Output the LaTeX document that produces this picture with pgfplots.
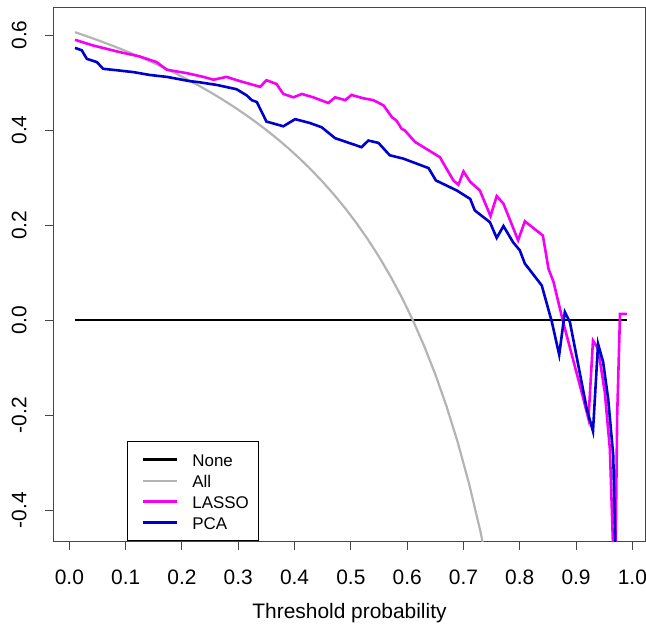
\documentclass[border=0pt]{standalone}
\usepackage{pgfplots}
\pgfplotsset{compat=1.18}
\usepackage{fontspec}
\setmainfont{Liberation Sans}
\definecolor{rgray}{RGB}{180,180,180}
\definecolor{rmag}{RGB}{245,0,245}
\definecolor{rblue}{RGB}{0,0,205}
\definecolor{boxc}{RGB}{70,70,70}
\begin{document}
\begin{tikzpicture}
\begin{axis}[
  scale only axis, width=591bp, height=533bp,
  xmin=-0.0273, xmax=1.0224, ymin=-0.465, ymax=0.657,
  axis line style={draw=boxc, line width=1bp},
  tick align=outside, major tick length=9bp,
  tick style={draw=boxc, line width=1bp},
  xtick pos=bottom, ytick pos=left,
  xtick={0,0.1,0.2,0.3,0.4,0.5,0.6,0.7,0.8,0.9,1.0},
  xticklabels={0.0,0.1,0.2,0.3,0.4,0.5,0.6,0.7,0.8,0.9,1.0},
  ytick={-0.4,-0.2,0,0.2,0.4,0.6},
  yticklabels={-0.4,-0.2,0.0,0.2,0.4,0.6},
  xticklabel style={font=\fontsize{21}{25}\selectfont, anchor=north},
  yticklabel style={font=\fontsize{21}{25}\selectfont, rotate=90, anchor=south},
  xticklabel shift=16bp,
  yticklabel shift=15bp,
  xlabel={Threshold probability},
  xlabel style={font=\fontsize{21}{25}\selectfont, yshift=-12bp},
  legend cell align=left,
  legend style={at={(0.1235,0)}, anchor=south west, draw=black, line width=0.8bp,
    font=\fontsize{17}{20}\selectfont, inner xsep=10bp, inner ysep=9.5bp,
    nodes={inner sep=0pt, text height=15bp, text depth=2bp},
    row sep=4bp},
  legend image code/.code={\path[draw=none,fill=none] (0bp,0bp) -- (55bp,0bp); \draw[#1] (6bp,0bp) -- (40bp,0bp);},
]
\addplot[black, line width=2.4bp] coordinates {(0.01,0) (0.99,0)};
\addlegendentry{None}
\addplot[rgray, line width=2.2bp] coordinates {
(0.01,0.6061) (0.03,0.5979) (0.05,0.5895) (0.07,0.5806) (0.09,0.5714) (0.11,0.5618)
(0.13,0.5517) (0.15,0.5412) (0.17,0.5301) (0.19,0.5185) (0.21,0.5063) (0.23,0.4935)
(0.25,0.48) (0.27,0.4658) (0.29,0.4507) (0.31,0.4348) (0.33,0.4179) (0.35,0.40)
(0.37,0.3810) (0.39,0.3607) (0.41,0.3390) (0.43,0.3158) (0.45,0.2909) (0.47,0.2642)
(0.49,0.2353) (0.51,0.2041) (0.53,0.1702) (0.55,0.1333) (0.57,0.0930) (0.59,0.0488)
(0.61,0.0) (0.63,-0.0541) (0.65,-0.1143) (0.67,-0.1818) (0.69,-0.2581) (0.71,-0.3448)
(0.73,-0.4444) (0.75,-0.56)};
\addlegendentry{All}
\addplot[rmag, line width=2.6bp] coordinates {
(0.010,0.590) (0.0425,0.578) (0.090,0.564) (0.125,0.555) (0.155,0.543) (0.173,0.527)
(0.208,0.520) (0.238,0.512) (0.256,0.506) (0.279,0.512) (0.303,0.503) (0.339,0.491)
(0.350,0.505) (0.368,0.497) (0.380,0.476) (0.398,0.469) (0.413,0.476) (0.433,0.469)
(0.460,0.457) (0.472,0.469) (0.490,0.463) (0.501,0.474) (0.522,0.467) (0.540,0.463)
(0.558,0.452) (0.573,0.427) (0.581,0.420) (0.590,0.403) (0.596,0.399) (0.614,0.375)
(0.658,0.343) (0.682,0.294) (0.691,0.285) (0.700,0.313) (0.712,0.291) (0.729,0.273)
(0.748,0.219) (0.759,0.261) (0.771,0.245) (0.797,0.168) (0.809,0.208) (0.841,0.178)
(0.851,0.108) (0.860,0.080) (0.877,-0.004) (0.910,-0.152) (0.922,-0.208) (0.930,-0.043)
(0.939,-0.060) (0.951,-0.152) (0.960,-0.271) (0.969,-0.60) (0.973,-0.20) (0.978,0.013)
(0.990,0.013)};
\addlegendentry{LASSO}
\addplot[rblue, line width=2.6bp] coordinates {
(0.010,0.573) (0.022,0.568) (0.031,0.550) (0.049,0.543) (0.060,0.529) (0.084,0.526)
(0.114,0.522) (0.143,0.516) (0.173,0.512) (0.214,0.503) (0.229,0.501) (0.262,0.495)
(0.297,0.486) (0.315,0.473) (0.324,0.463) (0.333,0.459) (0.350,0.418) (0.380,0.408)
(0.401,0.423) (0.427,0.415) (0.448,0.406) (0.472,0.383) (0.519,0.364) (0.531,0.378)
(0.549,0.373) (0.569,0.347) (0.593,0.340) (0.638,0.320) (0.651,0.294) (0.688,0.273)
(0.712,0.255) (0.720,0.231) (0.747,0.206) (0.759,0.173) (0.771,0.198) (0.788,0.164)
(0.800,0.147) (0.809,0.119) (0.839,0.073) (0.857,-0.004) (0.870,-0.073) (0.880,0.017)
(0.889,-0.004) (0.919,-0.187) (0.930,-0.234) (0.939,-0.050) (0.948,-0.088) (0.957,-0.166)
(0.966,-0.285) (0.972,-0.60)};
\addlegendentry{PCA}
\end{axis}
\pgfresetboundingbox
\path[use as bounding box] (-54bp,-86bp) rectangle (592bp,541bp);
\end{tikzpicture}
\end{document}
